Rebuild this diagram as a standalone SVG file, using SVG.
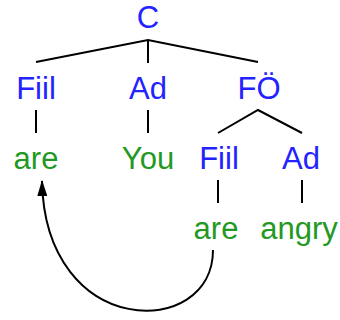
<svg xmlns="http://www.w3.org/2000/svg" width="340" height="320" viewBox="0 0 340 320">
<defs>
<style>
.cat{font-family:"Liberation Sans",Arial,sans-serif;font-size:31px;fill:#2323ff;text-anchor:middle}
.word{font-family:"Liberation Sans",Arial,sans-serif;font-size:31px;fill:#229922;text-anchor:middle}
.edge{stroke:#000;stroke-width:2;fill:none}
</style>
<marker id="arr" viewBox="0 0 16 10" refX="15" refY="5" markerWidth="16" markerHeight="10" markerUnits="userSpaceOnUse" orient="auto">
<path d="M0,0 L16,5 L0,10 z" fill="#000"/>
</marker>
</defs>
<rect width="340" height="320" fill="#fff"/>
<g id="connectors">
<path class="edge" d="M36,62 L148,40 L258,62"/>
<path class="edge" d="M148,40 L148,63"/>
<path class="edge" d="M36,110 L36,133"/>
<path class="edge" d="M148,110 L148,133"/>
<path class="edge" d="M218,133 L258,110 L302,133"/>
<path class="edge" d="M218,180 L218,203"/>
<path class="edge" d="M302,180 L302,203"/>
<path class="edge" d="M213,250 C213,340 45,340 42,181" marker-end="url(#arr)"/>
</g>
<g id="n-C"><text class="cat" x="148" y="28">C</text></g>
<g id="n-Fiil1"><text class="cat" x="36" y="99">Fiil</text></g>
<g id="n-Ad1"><text class="cat" x="148" y="99">Ad</text></g>
<g id="n-FO"><text class="cat" x="259" y="99">FÖ</text></g>
<g id="n-are1"><text class="word" x="36" y="169">are</text></g>
<g id="n-You"><text class="word" x="148" y="169">You</text></g>
<g id="n-Fiil2"><text class="cat" x="219" y="169">Fiil</text></g>
<g id="n-Ad2"><text class="cat" x="301" y="169">Ad</text></g>
<g id="n-are2"><text class="word" x="216" y="239">are</text></g>
<g id="n-angry"><text class="word" x="299" y="239">angry</text></g>
</svg>
